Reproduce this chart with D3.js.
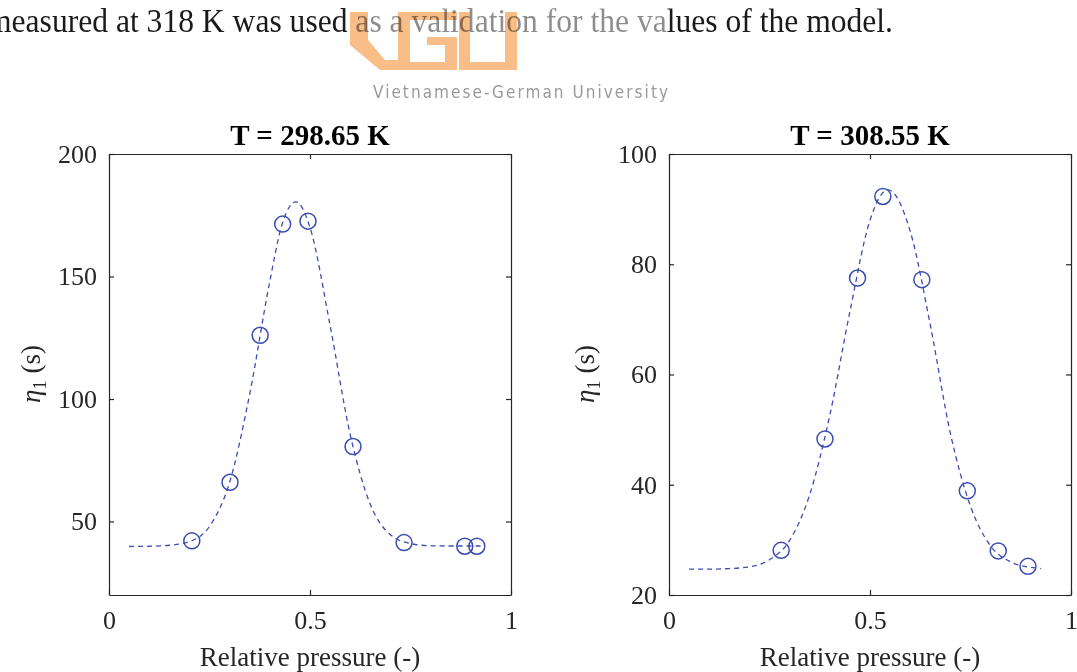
<!DOCTYPE html>
<html>
<head>
<meta charset="utf-8">
<script src="https://cdn.jsdelivr.net/npm/d3@7"></script>
<style>
  html, body { margin: 0; padding: 0; background: #fff; }
  svg { display: block; }
  .serif { font-family: "Liberation Serif", "Times New Roman", serif; }
</style>
</head>
<body>
<div id="chart"></div>
<script>
const xTicks = [0, 0.5, 1];

const titleLeft = "T = 298.65 K";
const yTicksLeft = [50, 100, 150, 200];
const pressLeft = [0.206, 0.301, 0.376, 0.432, 0.495, 0.607, 0.734, 0.885, 0.915];
const etaLeft = [42.1, 66.0, 126.0, 171.4, 172.6, 80.6, 41.4, 39.9, 39.9];
const modelPressLeft = [0.05, 0.10, 0.15, 0.20, 0.25, 0.30, 0.35, 0.40, 0.43, 0.465, 0.50, 0.55, 0.60, 0.65, 0.70, 0.75, 0.80, 0.85, 0.93];
const modelEtaLeft = [39.8, 39.9, 40.3, 41.8, 48.0, 66.0, 102.0, 148.0, 171.0, 180.5, 170.0, 130.0, 85.5, 57.0, 44.6, 41.0, 40.1, 40.0, 40.0];

const titleRight = "T = 308.55 K";
const yTicksRight = [20, 40, 60, 80, 100];
const pressRight = [0.279, 0.388, 0.469, 0.532, 0.629, 0.742, 0.819, 0.893];
const etaRight = [28.1, 48.3, 77.5, 92.3, 77.2, 38.9, 28.0, 25.2];
const modelPressRight = [0.05, 0.10, 0.15, 0.20, 0.25, 0.30, 0.35, 0.40, 0.45, 0.50, 0.545, 0.60, 0.65, 0.70, 0.75, 0.80, 0.85, 0.90, 0.925];
const modelEtaRight = [24.7, 24.7, 24.8, 25.1, 26.4, 29.9, 38.2, 52.6, 71.4, 88.0, 93.5, 86.0, 69.0, 49.3, 36.1, 28.9, 26.0, 25.0, 24.8];

const width = 1077, height = 672;
const blue = "#3b4db1";
const axisColor = "#262626";

const svg = d3.select("#chart").append("svg")
    .attr("width", width)
    .attr("height", height);

// --- running text of the page above the figure (cut at the left edge like the scan) ---
svg.append("text")
    .attr("class", "serif")
    .attr("x", -13)
    .attr("y", 32)
    .attr("font-size", 33)
    .attr("fill", "#1a1a1a")
    .attr("textLength", 906)
    .attr("lengthAdjust", "spacingAndGlyphs")
    .text("measured at 318 K was used as a validation for the values of the model.");

// watermark: light veil + logo
svg.append("rect")
    .attr("x", 347).attr("y", 0)
    .attr("width", 320).attr("height", 105)
    .attr("fill", "#fff")
    .attr("fill-opacity", 0.5);

const logo = svg.append("g")
    .attr("fill", "#f9bd88")
    .style("mix-blend-mode", "multiply");
logo.append("path")
    .attr("d", "M350,12 H368 V40 L385,60 H398 V70 H380 L350,45 Z");
logo.append("path")
    .attr("d", "M398,12 H457 V20 H410 V62 H445 V45 H427 V37 H457 V70 H398 Z");
logo.append("path")
    .attr("d", "M459,12 H470 V62 H505 V12 H517 V70 H459 Z");

svg.append("text")
    .attr("x", 373)
    .attr("y", 98)
    .attr("font-family", "'DejaVu Sans Condensed', 'DejaVu Sans', sans-serif")
    .attr("font-size", 17)
    .attr("fill", "#9a9a9a")
    .attr("textLength", 295)
    .attr("lengthAdjust", "spacing")
    .text("Vietnamese-German University");

// --- the two panels ---
function drawPanel(opts) {
    const x = d3.scaleLinear().domain([0, 1]).range([opts.left, opts.left + 402]);
    const y = d3.scaleLinear().domain(opts.yDomain).range([595, 154]);
    const g = svg.append("g").attr("class", "serif");

    const styleAxis = sel => {
        sel.select(".domain").attr("stroke", axisColor).attr("stroke-width", 1.2);
        sel.selectAll(".tick line").attr("stroke", axisColor).attr("stroke-width", 1.2);
        sel.selectAll(".tick text")
            .attr("fill", axisColor)
            .attr("font-size", 26)
            .attr("font-family", "'Liberation Serif', 'Times New Roman', serif");
    };

    g.append("g")
        .attr("transform", `translate(0,${y.range()[0]})`)
        .call(d3.axisBottom(x).tickValues(xTicks).tickFormat(d3.format("")).tickSize(-5).tickSizeOuter(0).tickPadding(16))
        .call(styleAxis);
    g.append("g")
        .attr("transform", `translate(0,${y.range()[1]})`)
        .call(d3.axisTop(x).tickValues(xTicks).tickFormat("").tickSize(-5).tickSizeOuter(0))
        .call(styleAxis);
    g.append("g")
        .attr("transform", `translate(${x.range()[0]},0)`)
        .call(d3.axisLeft(y).tickValues(opts.yTicks).tickSize(-5).tickSizeOuter(0).tickPadding(12))
        .call(styleAxis);
    g.append("g")
        .attr("transform", `translate(${x.range()[1]},0)`)
        .call(d3.axisRight(y).tickValues(opts.yTicks).tickFormat("").tickSize(-5).tickSizeOuter(0))
        .call(styleAxis);

    // model curve
    const model = opts.modelX.map((d, i) => [d, opts.modelY[i]]);
    g.append("path")
        .datum(model)
        .attr("fill", "none")
        .attr("stroke", blue)
        .attr("stroke-width", 1.3)
        .attr("stroke-dasharray", "5,4")
        .attr("d", d3.line().x(d => x(d[0])).y(d => y(d[1])).curve(d3.curveMonotoneX));

    // measured points
    g.selectAll("circle.pt")
        .data(opts.px.map((d, i) => [d, opts.py[i]]))
        .join("circle")
        .attr("class", "pt")
        .attr("cx", d => x(d[0]))
        .attr("cy", d => y(d[1]))
        .attr("r", 8)
        .attr("fill", "none")
        .attr("stroke", blue)
        .attr("stroke-width", 1.5);

    // title
    g.append("text")
        .attr("x", (x.range()[0] + x.range()[1]) / 2)
        .attr("y", 145)
        .attr("text-anchor", "middle")
        .attr("font-size", 29)
        .attr("font-weight", "bold")
        .attr("fill", "#000")
        .text(opts.title);

    // x label
    g.append("text")
        .attr("x", (x.range()[0] + x.range()[1]) / 2)
        .attr("y", 666)
        .attr("text-anchor", "middle")
        .attr("font-size", 27)
        .attr("fill", axisColor)
        .text("Relative pressure (-)");

    // y label
    const yl = g.append("text")
        .attr("transform", `translate(${opts.yLabelX},374) rotate(-90)`)
        .attr("text-anchor", "middle")
        .attr("font-size", 27)
        .attr("fill", axisColor);
    yl.append("tspan").attr("font-style", "italic").text("η");
    yl.append("tspan").attr("font-size", 19).attr("dy", 6).text("1");
    yl.append("tspan").attr("dy", -6).text(" (s)");
}

drawPanel({
    left: 109, yDomain: [20, 200], yTicks: yTicksLeft, title: titleLeft,
    px: pressLeft, py: etaLeft, modelX: modelPressLeft, modelY: modelEtaLeft, yLabelX: 40
});
drawPanel({
    left: 669, yDomain: [20, 100], yTicks: yTicksRight, title: titleRight,
    px: pressRight, py: etaRight, modelX: modelPressRight, modelY: modelEtaRight, yLabelX: 594
});
</script>
</body>
</html>
